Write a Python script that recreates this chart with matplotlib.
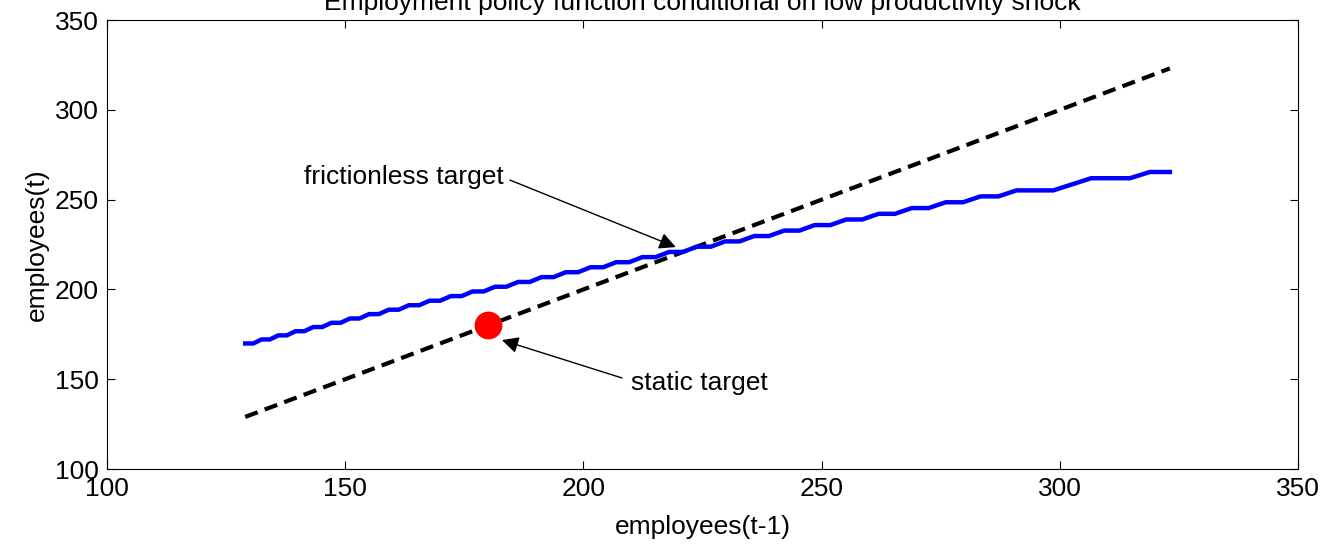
import matplotlib
matplotlib.use("Agg")
import matplotlib.pyplot as plt

plt.rcParams['font.family'] = ['Liberation Sans', 'DejaVu Sans']

# employment grid (employees at t-1)
emp_grid = [
    129.00, 130.70, 132.43, 134.18, 135.95, 137.75, 139.57, 141.41, 143.28, 145.17,
    147.09, 149.03, 151.00, 152.99, 155.01, 157.06, 159.13, 161.23, 163.36, 165.52,
    167.71, 169.92, 172.16, 174.43, 176.73, 179.07, 181.43, 183.83, 186.26, 188.72,
    191.21, 193.73, 196.29, 198.88, 201.51, 204.17, 206.87, 209.60, 212.37, 215.17,
    218.01, 220.89, 223.81, 226.76, 229.75, 232.78, 235.85, 238.96, 242.12, 245.32,
    248.56, 251.84, 255.17, 258.54, 261.95, 265.41, 268.91, 272.46, 276.06, 279.70,
    283.39, 287.13, 290.92, 294.76, 298.65, 302.59, 306.59, 310.64, 314.74, 318.90,
    323.11,
]

# policy: employees(t) chosen for each grid point
emp_policy = [
    169.92, 169.92, 172.16, 172.16, 174.43, 174.43, 176.73, 176.73, 179.07, 179.07,
    181.43, 181.43, 183.83, 183.83, 186.26, 186.26, 188.72, 188.72, 191.21, 191.21,
    193.73, 193.73, 196.29, 196.29, 198.88, 198.88, 201.51, 201.51, 204.17, 204.17,
    206.87, 206.87, 209.60, 209.60, 212.37, 212.37, 215.17, 215.17, 218.01, 218.01,
    220.89, 220.89, 223.81, 223.81, 226.76, 226.76, 229.75, 229.75, 232.78, 232.78,
    235.85, 235.85, 238.96, 238.96, 242.12, 242.12, 245.32, 245.32, 248.56, 248.56,
    251.84, 251.84, 255.17, 255.17, 255.17, 258.54, 261.95, 261.95, 261.95, 265.41,
    265.41,
]

static_target = (180, 180)

x_ticks = [100, 150, 200, 250, 300, 350]
y_ticks = [100, 150, 200, 250, 300, 350]

fig = plt.figure(figsize=(13.33, 5.59), dpi=100)
ax = fig.add_axes([0.0803, 0.161, 0.8934, 0.803])

# 45 degree line
ax.plot([emp_grid[0], emp_grid[-1]], [emp_grid[0], emp_grid[-1]], color='black',
        linewidth=3, linestyle=(0, (3.2, 1.8)))
ax.plot(emp_grid, emp_policy, color='blue', linewidth=3.2)
ax.plot(*static_target, 'o', color='red', markersize=19, zorder=5)

fs = 19
ax.text(162.3, 262.6, 'frictionless target', ha='center', va='center', fontsize=fs)
ax.annotate('', xy=(219.4, 223.6), xytext=(184.6, 260.9),
            arrowprops=dict(arrowstyle='-|>', color='black', lw=1, mutation_scale=25,
                            shrinkA=0, shrinkB=0))
ax.text(224.3, 147.9, 'static target', ha='center', va='center', fontsize=fs)
ax.annotate('', xy=(182.9, 171.8), xytext=(208.1, 150.7),
            arrowprops=dict(arrowstyle='-|>', color='black', lw=1, mutation_scale=25,
                            shrinkA=0, shrinkB=0))

ax.set_xlim(100, 350)
ax.set_ylim(100, 350)
ax.set_xticks(x_ticks)
ax.set_yticks(y_ticks)
ax.tick_params(direction='in', top=True, right=True, labelsize=fs, length=6, pad=6)
ax.set_xlabel('employees(t-1)', fontsize=fs, labelpad=10)
ax.set_ylabel('employees(t)', fontsize=fs, labelpad=4)
ax.set_title('Employment policy function conditional on low productivity shock',
             fontsize=fs, pad=7)

fig.savefig('out.png', dpi=100)
